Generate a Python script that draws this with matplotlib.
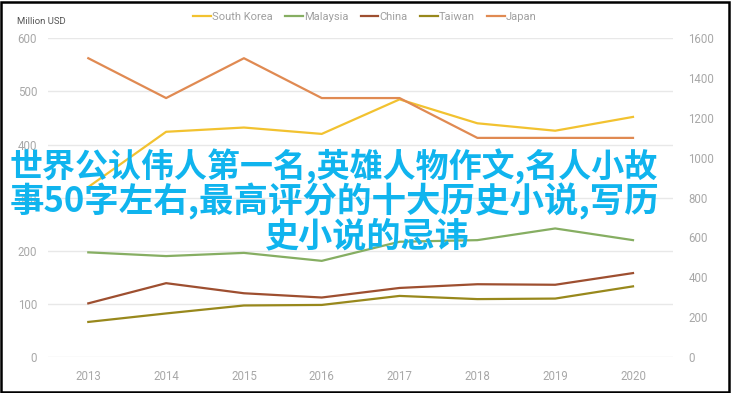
import matplotlib
matplotlib.use("Agg")
import matplotlib.pyplot as plt
from matplotlib.patches import Rectangle

years = [2013, 2014, 2015, 2016, 2017, 2018, 2019, 2020]
south_korea = [320, 424, 432, 420, 485, 440, 426, 452]
malaysia = [197, 190, 196, 181, 217, 220, 242, 220]
china = [101, 139, 120, 112, 130, 137, 136, 158]
taiwan = [66, 82, 97, 98, 115, 109, 110, 133]
japan = [1500, 1300, 1500, 1300, 1300, 1100, 1100, 1100]  # right axis

left_ticks = [0, 100, 200, 300, 400, 500, 600]
right_ticks = [0, 200, 400, 600, 800, 1000, 1200, 1400, 1600]

overlay_lines = ["世界公认伟人第一名,英雄人物作文,名人小故",
                 "事50字左右,最高评分的十大历史小说,写历",
                 "史小说的忌讳"]

colors = {"South Korea": "#F2C230", "Malaysia": "#86AE62", "China": "#9E4F30",
          "Taiwan": "#98881C", "Japan": "#E08A52"}

W, H = 731, 393
fig = plt.figure(figsize=(W / 100, H / 100), dpi=100)
fig.patch.set_facecolor("white")

x0, x1 = 48.3, 673
y0, y1 = 357, 38.3
ax = fig.add_axes([x0 / W, 1 - y0 / H, (x1 - x0) / W, (y0 - y1) / H])
ax2 = ax.twinx()

lw = 1.6
ax.plot(years, south_korea, color=colors["South Korea"], lw=lw, label="South Korea")
ax.plot(years, malaysia, color=colors["Malaysia"], lw=lw, label="Malaysia")
ax.plot(years, china, color=colors["China"], lw=lw, label="China")
ax.plot(years, taiwan, color=colors["Taiwan"], lw=lw, label="Taiwan")
ax2.plot(years, japan, color=colors["Japan"], lw=lw, label="Japan")

ax.set_xlim(2012.486, 2020.514)
ax.set_ylim(0, 600)
ax2.set_ylim(0, 1600)
ax.set_yticks(left_ticks)
ax2.set_yticks(right_ticks)
ax.set_xticks(years)
ax.set_xticklabels([str(y) for y in years])

tick_font = "Roboto"
for a in (ax, ax2):
    for s in a.spines.values():
        s.set_visible(False)
    a.tick_params(length=0, colors="#A8A8A8", labelsize=8.3)
    for lab in a.get_yticklabels() + a.get_xticklabels():
        lab.set_fontfamily(tick_font)
ax.tick_params(axis="y", pad=8)
ax2.tick_params(axis="y", pad=11)
ax.tick_params(axis="x", pad=9)
ax.grid(axis="y", color="#E8E8E8", lw=1.0)
ax.set_axisbelow(True)

fig.text(17 / W, 1 - 22 / H, "Million USD", fontsize=6.8, color="#555555",
         family=tick_font, va="center", ha="left")

h1, l1 = ax.get_legend_handles_labels()
h2, l2 = ax2.get_legend_handles_labels()
fig.legend(h1 + h2, l1 + l2, loc="center", bbox_to_anchor=(365 / W, 1 - 17 / H),
           ncol=5, frameon=False, handlelength=1.6, handletextpad=0.1,
           columnspacing=1.1, prop={"family": tick_font, "size": 8},
           labelcolor="#A0A0A0")

cyan = "#10B4EE"
cjk = ["Noto Sans CJK SC", "DejaVu Sans"]
# (left px, fitted right px, center y px) for each overlay line
spans = [(10, 659, 166), (10, 660, 201), (265, 470, 236)]
texts = []
for line, (lx, rx, cy) in zip(overlay_lines, spans):
    t = fig.text(lx / W, 1 - cy / H, line, fontsize=23, color=cyan,
                 family=cjk, weight="bold", ha="left", va="center")
    texts.append((t, lx, rx))
fig.canvas.draw()
r = fig.canvas.get_renderer()
for t, lx, rx in texts:
    w = t.get_window_extent(r).width
    t.set_fontsize(23 * (rx - lx) / w)

fig.patches.append(Rectangle((1 / W, 1.5 / H), (W - 3.5) / W, (H - 3) / H,
                             transform=fig.transFigure, fill=False,
                             edgecolor="black", lw=1.8))

fig.savefig("out.png", dpi=100)
